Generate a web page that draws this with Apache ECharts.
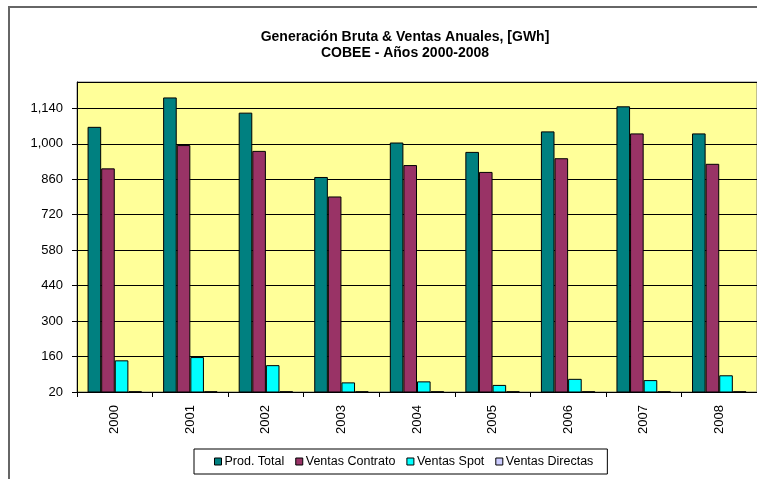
<!DOCTYPE html>
<html>
<head>
<meta charset="utf-8">
<script src="https://cdn.jsdelivr.net/npm/echarts@6/dist/echarts.min.js"></script>
<style>
  html, body { margin: 0; padding: 0; background: #fff; }
  #chart { width: 757px; height: 479px; }
</style>
</head>
<body>
<div id="chart"></div>
<script>
// years on the x axis
var years = ["2000", "2001", "2002", "2003", "2004", "2005", "2006", "2007", "2008"];
// GWh
var prodTotal = [1067, 1183, 1123, 869, 1005, 968, 1049, 1148, 1041];
var ventasContrato = [903, 995, 972, 792, 916, 889, 943, 1041, 921];
var ventasSpot = [145, 158, 126, 58, 62, 48, 72, 67, 86];
var ventasDirectas = [23, 23, 23, 23, 23, 23, 23, 23, 23];
var seriesNames = ["Prod. Total", "Ventas Contrato", "Ventas Spot", "Ventas Directas"];
var seriesColors = ["#008080", "#993366", "#00FFFF", "#CCCCFF"];

// value axis runs 20 .. 1244 with a step of 140
var axisMin = 20;
var axisMax = 1244;
var axisStep = 140;

var font = "Liberation Sans, Arial, sans-serif";

var chart = echarts.init(document.getElementById("chart"));

var allData = [prodTotal, ventasContrato, ventasSpot, ventasDirectas];
var series = seriesNames.map(function (name, i) {
  return {
    name: name,
    type: "bar",
    yAxisIndex: 0,
    barGap: "0%",
    barCategoryGap: "28%",
    itemStyle: { color: seriesColors[i], borderColor: "#000", borderWidth: 1 },
    data: allData[i]
  };
});

var option = {
  animation: false,
  backgroundColor: "#fff",
  title: {
    text: "Generación Bruta & Ventas Anuales, [GWh]\nCOBEE - Años 2000-2008",
    left: 400,
    top: 24,
    textAlign: "center",
    textStyle: { fontFamily: font, fontSize: 14, fontWeight: "bold", color: "#000", lineHeight: 16 }
  },
  graphic: [
    {
      type: "rect",
      shape: { x: 9, y: 7, width: 800, height: 520 },
      style: { fill: null, stroke: "#666", lineWidth: 2 },
      z: 100
    }
  ],
  legend: {
    data: seriesNames,
    left: 194,
    top: 449,
    itemWidth: 7,
    itemHeight: 7,
    itemGap: 11,
    icon: "rect",
    padding: [6, 14, 6, 20],
    borderColor: "#000",
    borderWidth: 1,
    textStyle: { fontFamily: font, fontSize: 12.5, color: "#000", padding: [0, 0, 0, -2] },
    itemStyle: { borderColor: "#000", borderWidth: 1 }
  },
  grid: {
    left: 77,
    right: 0,
    top: 82,
    bottom: 87,
    show: true,
    backgroundColor: "#FFFF99",
    borderColor: "#808080",
    borderWidth: 1
  },
  xAxis: {
    type: "category",
    data: years,
    axisLine: { lineStyle: { color: "#000", width: 1 } },
    axisTick: { show: true, length: 5, lineStyle: { color: "#000" } },
    axisLabel: { rotate: 90, margin: 13, fontFamily: font, fontSize: 13, color: "#000" }
  },
  yAxis: [
    {
      // data axis
      type: "value",
      min: axisMin,
      max: axisMax,
      show: false,
      splitLine: { show: false }
    },
    {
      // drawn axis, same pixel span, offset by axisMin so ticks land on 20, 160, ...
      type: "value",
      position: "left",
      min: 0,
      max: axisMax - axisMin,
      interval: axisStep,
      axisLine: { show: true, lineStyle: { color: "#000", width: 1 } },
      axisTick: { show: true, length: 5, lineStyle: { color: "#000" } },
      axisLabel: {
        margin: 14,
        fontFamily: font,
        fontSize: 13,
        color: "#000",
        showMaxLabel: false,
        formatter: function (v) {
          if (v > axisMax - axisMin - 1) return "";
          return (v + axisMin).toLocaleString("en-US");
        }
      },
      splitLine: { show: true, lineStyle: { color: "#000", width: 1 } }
    }
  ],
  series: series
};

chart.setOption(option);
</script>
</body>
</html>
